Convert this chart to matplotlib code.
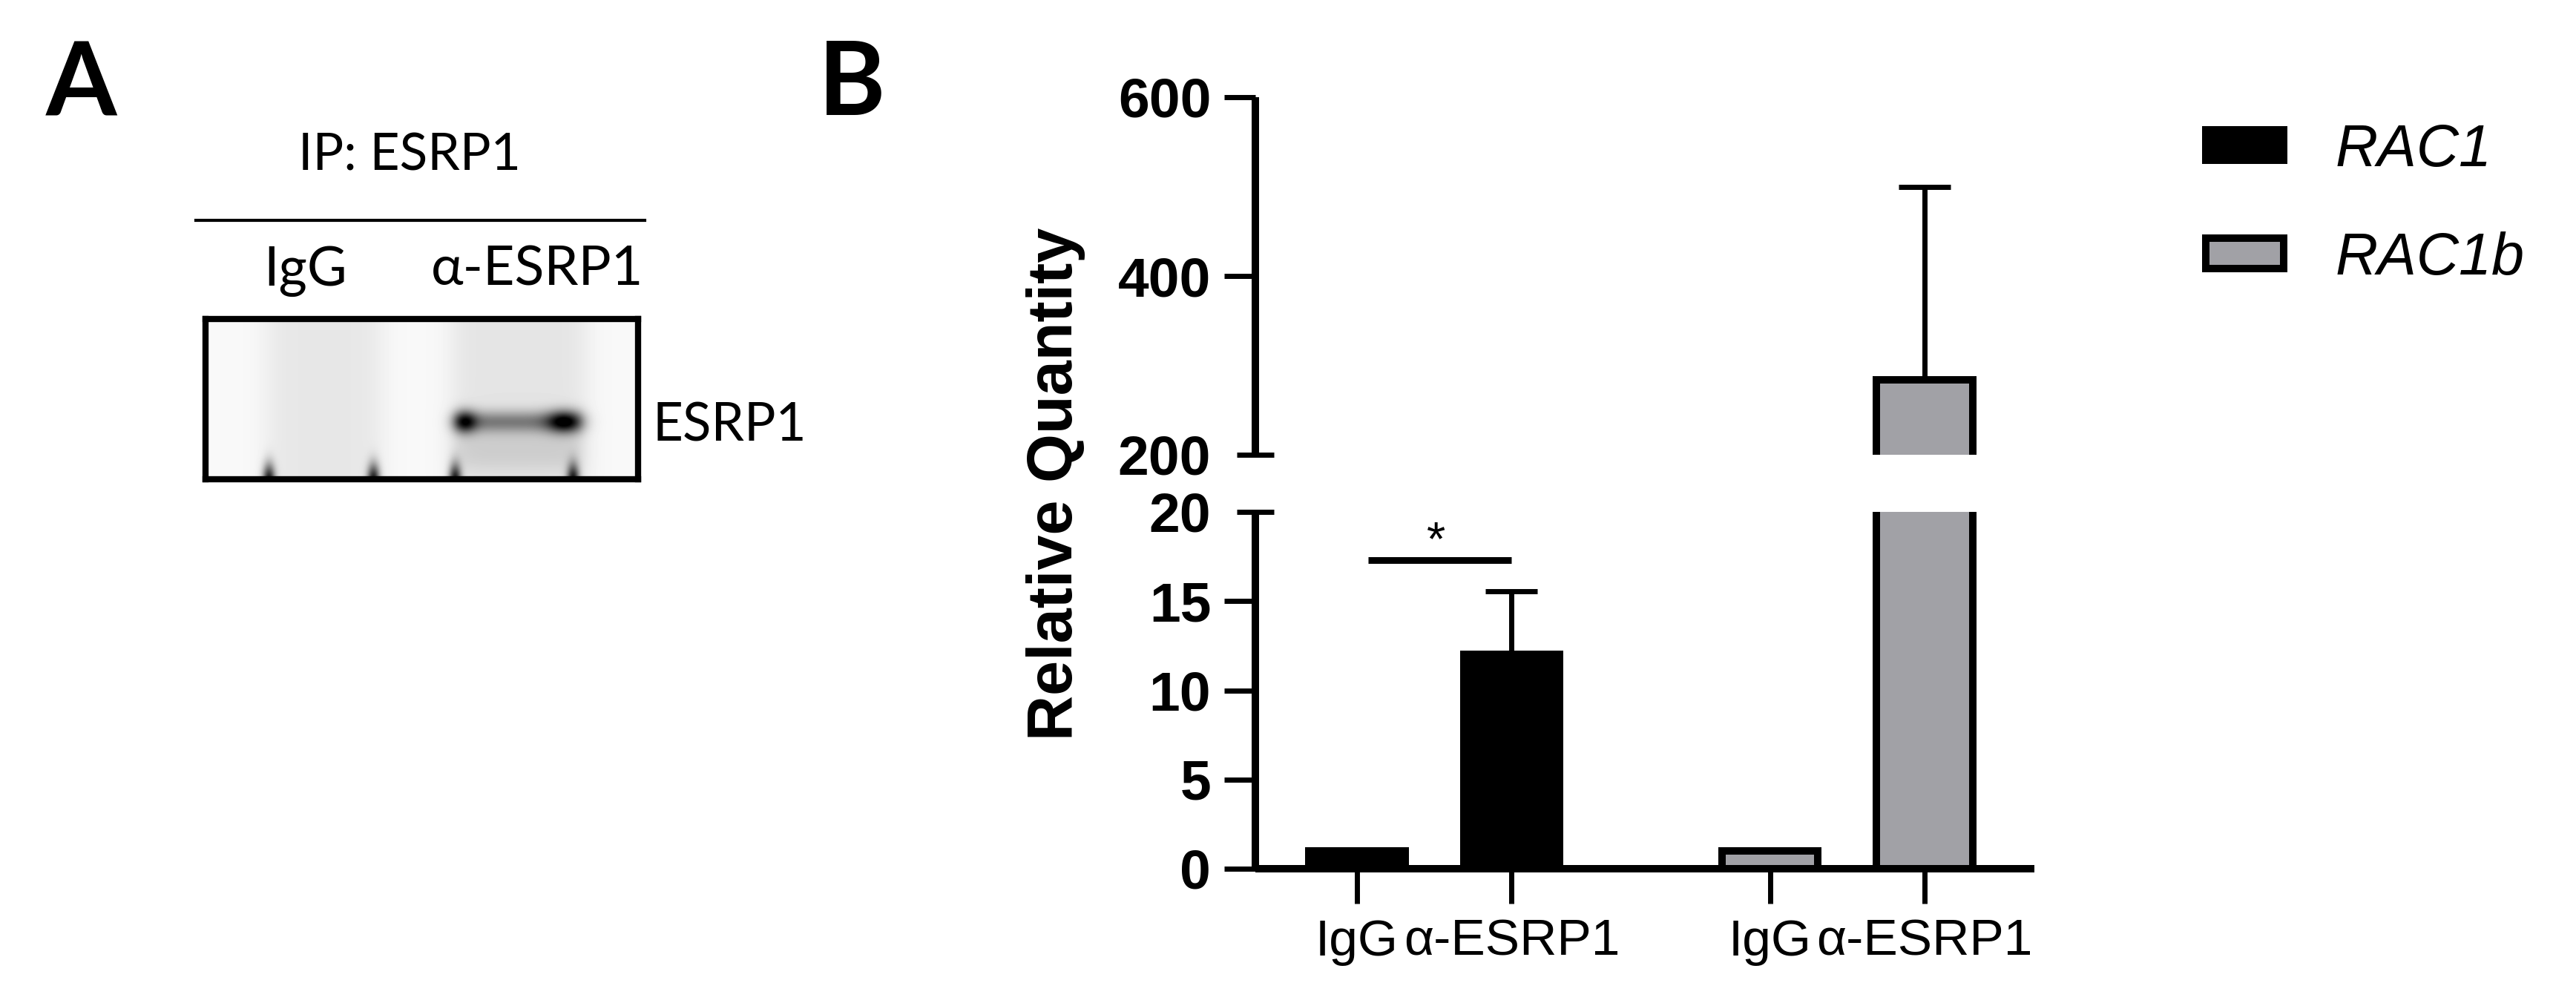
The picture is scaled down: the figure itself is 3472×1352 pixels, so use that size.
import numpy as np
import matplotlib
matplotlib.use("Agg")
import matplotlib.pyplot as plt
from matplotlib.lines import Line2D

# ---------------- data ----------------
genes = ["RAC1", "RAC1b"]
conditions = ["IgG", "α-ESRP1"]
rac1_mean = [1.0, 12.0]
rac1_sem = [0.0, 3.55]
rac1b_mean = [1.0, 284.0]
rac1b_sem = [0.0, 216.0]
low_ticks = [0, 5, 10, 15]
low_break_tick = [20]
high_ticks = [400, 600]
high_break_tick = [200]
sig_level = 17.3

# ---------------- layout helpers ----------------
W, H = 3472, 1352
fig = plt.figure(figsize=(W / 100, H / 100), dpi=100)
plt.rcParams["font.family"] = ["Liberation Sans", "DejaVu Sans"]


def rect(l, t, r, b):
    return [l / W, 1 - b / H, (r - l) / W, (b - t) / H]


CAL = ["Lato", "Noto Sans", "DejaVu Sans"]
GREY = "#a1a1a6"
pos_rac1 = [0.0, 1.0]
pos_rac1b = [2.67, 3.67]

# ---------------- panel B ----------------
ax_lo = fig.add_axes(rect(1692, 690, 2742, 1171))
ax_hi = fig.add_axes(rect(1692, 131, 2742, 613))

handles = []
for ax in (ax_lo, ax_hi):
    b1 = ax.bar(pos_rac1, rac1_mean, width=0.62, color="black",
                edgecolor="black", linewidth=7.2, zorder=3)
    b2 = ax.bar(pos_rac1b, rac1b_mean, width=0.62, color=GREY,
                edgecolor="black", linewidth=7.2, zorder=3)
    handles = [b1, b2]
    for pos, m, e in ((pos_rac1, rac1_mean, rac1_sem), (pos_rac1b, rac1b_mean, rac1b_sem)):
        idx = [i for i in range(len(e)) if e[i] > 0]
        ax.errorbar([pos[i] for i in idx], [m[i] for i in idx],
                    yerr=[[0] * len(idx), [e[i] for i in idx]],
                    fmt="none", ecolor="black", elinewidth=5,
                    capsize=25, capthick=5, zorder=2)
    ax.set_xlim(-0.657, 4.38)
    ax.spines["top"].set_visible(False)
    ax.spines["right"].set_visible(False)
    for s in ax.spines.values():
        s.set_linewidth(7.2)
        s.set_capstyle("butt")
    ax.patch.set_alpha(0)

ax_lo.set_ylim(0, 20)
ax_hi.set_ylim(200, 600)
ax_hi.spines["bottom"].set_visible(False)
ax_hi.set_xticks([])

ax_lo.set_yticks(low_ticks, labels=[str(t) for t in low_ticks],
                 fontweight="bold", fontsize=54)
ax_lo.set_yticks(low_break_tick, labels=[str(t) for t in low_break_tick],
                 minor=True, fontweight="bold", fontsize=54)
ax_hi.set_yticks(high_ticks, labels=[str(t) for t in high_ticks],
                 fontweight="bold", fontsize=54)
ax_hi.set_yticks(high_break_tick, labels=[str(t) for t in high_break_tick],
                 minor=True, fontweight="bold", fontsize=54)
for ax in (ax_lo, ax_hi):
    ax.tick_params(axis="y", which="major", direction="out", length=30,
                   width=5, pad=13)
    ax.tick_params(axis="y", which="minor", direction="inout", length=36,
                   width=5, pad=25)

ax_lo.set_xticks(pos_rac1 + pos_rac1b, labels=conditions * 2, fontsize=50)
ax_lo.tick_params(axis="x", which="major", direction="out", length=34,
                  width=5, pad=14)
ax_lo.tick_params(axis="x", which="minor", length=0)

# significance bar
ax_lo.plot([0.07, 1.0], [sig_level, sig_level], color="black", lw=6.5,
           solid_capstyle="butt", clip_on=False, zorder=4)
ax_lo.text(0.51, sig_level + 0.3, "*", ha="center", va="baseline", fontsize=47)

fig.text(1423 / W, 1 - 652 / H, "Relative Quantity", rotation=90,
         ha="center", va="center", fontsize=61, fontweight="bold")

fig.legend(handles, genes, loc="upper left",
           bbox_to_anchor=(2973 / W, 1 - 166 / H), frameon=False,
           borderpad=0, borderaxespad=0, handlelength=1.32, handleheight=0.42,
           handletextpad=0.88, labelspacing=0.9,
           prop={"family": "Liberation Sans", "style": "italic", "size": 57})

# ---------------- panel A (blot illustration) ----------------
ax_b = fig.add_axes(rect(277, 430, 860, 646))
X, Y = np.meshgrid(np.arange(277, 860), np.arange(430, 646))


def lane(x, x0, x1, soft):
    return 1 / (1 + np.exp(-(x - x0) / soft)) / (1 + np.exp((x - x1) / soft))


def g(x, c, s):
    return np.exp(-0.5 * ((x - c) / s) ** 2)


dark = np.full(X.shape, 0.025)
dark += 0.07 * lane(X, 360, 513, 10)
dark += 0.08 * lane(X, 609, 789, 10)
dark += 0.10 * lane(X, 612, 785, 6) * lane(Y, 580, 630, 8)
band_x = 0.40 * lane(X, 612, 784, 5) + 0.55 * g(X, 626, 11) + 0.6 * g(X, 760, 16)
dark += np.clip(band_x, 0, 1) * g(Y, 568, 10.5)
for cx in (362, 503, 613, 772):
    dark += 0.85 * g(X, cx, 6) * g(Y, 648, 16)
img = 1 - np.clip(dark, 0, 1)
ax_b.imshow(img, cmap="gray", vmin=0, vmax=1, aspect="auto",
            interpolation="bilinear")
ax_b.set_xticks([])
ax_b.set_yticks([])
for s in ax_b.spines.values():
    s.set_linewidth(6)

fig.text(62 / W, 1 - 157 / H, "A", fontsize=99, fontweight="bold",
         family=CAL, ha="left", va="baseline")
fig.text(1103 / W, 1 - 155 / H, "B", fontsize=99, fontweight="bold",
         family=CAL, ha="left", va="baseline")
fig.text(552 / W, 1 - 229 / H, "IP: ESRP1", fontsize=50, family=CAL,
         ha="center", va="baseline")
fig.add_artist(Line2D([264 / W, 869 / W], [1 - 297 / H] * 2, lw=3,
                      color="black"))
fig.text(412 / W, 1 - 385 / H, conditions[0], fontsize=53, family=CAL,
         ha="center", va="baseline")
fig.text(724 / W, 1 - 385 / H, conditions[1], fontsize=53, family=CAL,
         ha="center", va="baseline")
fig.text(880 / W, 1 - 594 / H, "ESRP1", fontsize=51, family=CAL,
         ha="left", va="baseline")

fig.savefig("out.png", dpi=100, facecolor="white")
